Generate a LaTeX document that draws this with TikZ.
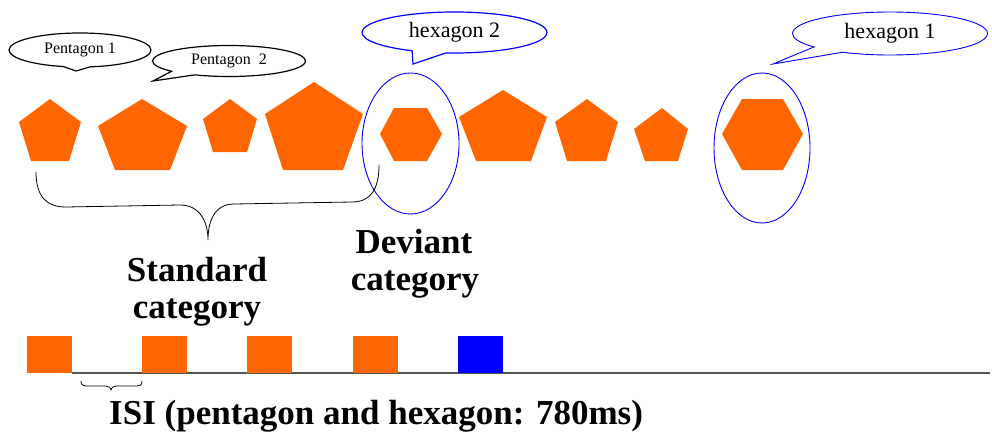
\documentclass[tikz,border=0pt]{standalone}
\usepackage{fontspec}
\setmainfont{Liberation Serif}
\usetikzlibrary{shapes.callouts}
\definecolor{shapeorange}{HTML}{FF6600}
\definecolor{devblue}{HTML}{0000FF}
\definecolor{axisgray}{HTML}{555555}
\tikzset{
  stim/.style={fill=shapeorange},
  devstim/.style={fill=devblue},
  bubble/.style={ellipse callout, draw=black, line width=1.2pt, fill=white,
    inner sep=0pt, callout pointer arc=22, font=\fontsize{16}{18}\selectfont},
  hexbubble/.style={bubble, draw=devblue, font=\fontsize{22}{24}\selectfont},
  ring/.style={draw=devblue, line width=0.9pt},
  bracepath/.style={draw=black, line width=0.8pt},
  biglabel/.style={font=\bfseries\fontsize{35}{38}\selectfont, anchor=base, inner sep=0pt},
}
\begin{document}
\begin{tikzpicture}[x=1pt, y=-1pt]
\useasboundingbox (0,0) rectangle (992,436);

% speech bubbles
\node[bubble, minimum width=142pt, minimum height=34pt,
      callout absolute pointer={(76,71)}] (p1) at (80,50) {Pentagon 1};
\node[bubble, minimum width=153pt, minimum height=31pt,
      callout absolute pointer={(153,81)}] (p2) at (229,61) {Pentagon\ \ 2};
\node[hexbubble, minimum width=185pt, minimum height=41pt,
      callout absolute pointer={(413,64)}] (h2) at (454.5,32.5) {hexagon 2};
\node[hexbubble, line width=0.9pt, minimum width=195pt, minimum height=43pt,
      callout absolute pointer={(773,64)}] (h1) at (890,33.5) {hexagon 1};

% stimulus sequence
\fill[stim] (50,99) -- (81,122) -- (69,161) -- (31,161) -- (19,122) -- cycle;
\fill[stim] (142,99) -- (187,126) -- (170,170) -- (115,170) -- (98,126) -- cycle;
\fill[stim] (230,99) -- (257,119) -- (247,152) -- (213,152) -- (203,119) -- cycle;
\fill[stim] (314,82) -- (363,114) -- (343,170) -- (283,170) -- (265,114) -- cycle;
\fill[stim] (380,134) -- (394,108) -- (427,108) -- (442,134) -- (427,161) -- (394,161) -- cycle;
\fill[stim] (503,90) -- (547,117) -- (531,161) -- (476,161) -- (459,117) -- cycle;
\fill[stim] (587,99) -- (618,122) -- (606,161) -- (567,161) -- (555,122) -- cycle;
\fill[stim] (662,108) -- (688,129) -- (678,161) -- (645,161) -- (634,129) -- cycle;
\fill[stim] (722,134) -- (742,99) -- (783,99) -- (803,134) -- (783,170) -- (742,170) -- cycle;

% deviant rings
\draw[ring] (410.5,143.5) ellipse [x radius=48.5, y radius=70.5];
\draw[ring] (762,148) ellipse [x radius=48, y radius=75];

% brace under the standard stimuli
\draw[bracepath] (36,172) .. controls (36,196) and (46,207) .. (66,207)
  -- (180,205) .. controls (200,205) and (208,222) .. (208,240)
  .. controls (208,222) and (214,204) .. (234,204)
  -- (352,202) .. controls (370,202) and (379,190) .. (379,165);

% labels
\node[biglabel] (std1) at (197,281) {Standard};
\node[biglabel] (std2) at (197,318) {category};
\node[biglabel] (dev1) at (414,253) {Deviant};
\node[biglabel] (dev2) at (415,290) {category};

% time line with stimulus onsets
\coordinate (tstart) at (72,373);
\coordinate (tend) at (990,373);
\draw[axisgray, line width=1.1pt] (tstart) -- (tend);
\fill[stim] (27,336) rectangle (72,373);
\fill[stim] (142,336) rectangle (187,373);
\fill[stim] (247,336) rectangle (292,373);
\fill[stim] (353,336) rectangle (398,373);
\fill[devstim] (458,336) rectangle (503,373);

% ISI brace
\draw[bracepath] (81,381) .. controls (81,385) and (83,386) .. (86,386)
  -- (106,386) .. controls (109,386) and (111,388) .. (111,390)
  .. controls (111,388) and (113,386) .. (116,386)
  -- (137,386) .. controls (140,386) and (142,385) .. (142,381);
\node[biglabel, anchor=base west] (isi) at (109,424) {ISI (pentagon and hexagon: 780ms)};
\end{tikzpicture}
\end{document}
